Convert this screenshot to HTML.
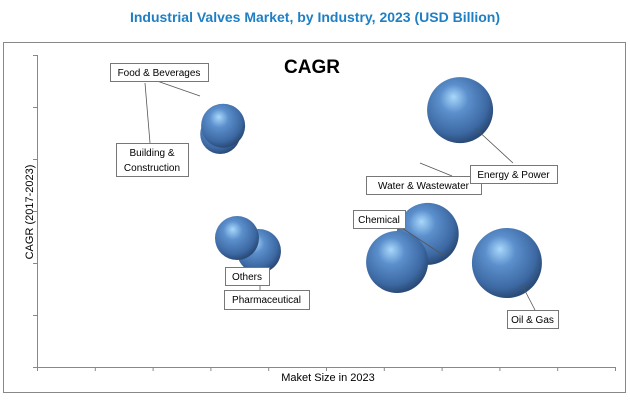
<!DOCTYPE html>
<html><head><meta charset="utf-8"><style>
body{margin:0;background:#fff;width:630px;height:403px;overflow:hidden;font-family:"Liberation Sans",sans-serif}
svg text{font-family:"Liberation Sans",sans-serif}
</style></head><body>
<svg width="630" height="403">
<defs>
<radialGradient id="sph" cx="0.42" cy="0.38" r="0.62" fx="0.4" fy="0.3">
<stop offset="0" stop-color="#a9d8fb"/>
<stop offset="0.35" stop-color="#5b8fcc"/>
<stop offset="0.8" stop-color="#3d69a3"/>
<stop offset="1" stop-color="#2a4b78"/>
</radialGradient>
</defs>
<text x="315" y="22" text-anchor="middle" font-size="14" font-weight="bold" fill="#1f7fc4">Industrial Valves Market, by Industry, 2023 (USD Billion)</text>
<rect x="3.5" y="42.5" width="622" height="350" fill="none" stroke="#888"/>
<text x="312" y="73" text-anchor="middle" font-size="19" font-weight="bold" fill="#000">CAGR</text>
<g id="axes"></g>
<g id="marks"></g>
<text x="328" y="381" text-anchor="middle" font-size="11" fill="#000">Maket Size in 2023</text>
<text transform="translate(33,212) rotate(-90)" text-anchor="middle" font-size="11" fill="#000">CAGR (2017-2023)</text>
</svg>
<script>
const names=["Building & Construction","Food & Beverages","Others","Pharmaceutical","Energy & Power","Water & Wastewater","Chemical","Oil & Gas"];
const xVals=[3.17,3.22,3.46,3.84,7.32,6.76,6.23,8.13];
const yVals=[4.48,4.64,2.48,2.23,4.94,2.56,2.02,2.00];
const sizes=[20,22,22,22,33,31,31,35];
const xTicks=[0,1,2,3,4,5,6,7,8,9,10];
const yTicks=[0,1,2,3,4,5,6];
const X0=37,X1=615,Y0=367,Y1=55;
const sx=v=>X0+(v/10)*(X1-X0);
const sy=v=>Y0-(v/6)*(Y0-Y1);
const NS="http://www.w3.org/2000/svg";
const ax=document.getElementById('axes'),mk=document.getElementById('marks');
function mkEl(t,a,p){const e=document.createElementNS(NS,t);for(const k in a)e.setAttribute(k,a[k]);p.appendChild(e);return e;}
let yl=mkEl('line',{x1:X0+.5,y1:Y1,x2:X0+.5,y2:Y0,stroke:'#888'},ax);


let xl=mkEl('line',{x1:X0,y1:Y0+.5,x2:X1,y2:Y0+.5,stroke:'#888'},ax);


yTicks.forEach(t=>{let l=mkEl('line',{x1:X0-4,y1:sy(t)+.5,x2:X0,y2:sy(t)+.5,stroke:'#888'},ax);

});
xTicks.forEach(t=>{let l=mkEl('line',{x1:sx(t)+.5,y1:Y0,x2:sx(t)+.5,y2:Y0+4,stroke:'#888'},ax);

});
const boxes=[[116,143,72,33,[150,143,145,83]],[110,63,98,18,[157,81,200,96]],[225,267,44,18,null],[224,290,85,19,[260,285,260,290]],[470,165,87,18,[475,128,513,163]],[366,176,115,18,[420,163,452,176]],[353,210,52,18,[402,228,443,255]],[507,310,51,18,[522,285,535,310]]];
const order=[3,2,0,1,4,5,6,7];
const labelOrder=[0,1,2,3,5,4,6,7];
order.forEach(i=>{let c=mkEl('circle',{cx:sx(xVals[i]),cy:sy(yVals[i]),r:sizes[i],fill:'url(#sph)'},mk);

});
boxes.forEach((b,i)=>{if(b[4]){let l=mkEl('line',{x1:b[4][0],y1:b[4][1],x2:b[4][2],y2:b[4][3],stroke:'#555','stroke-width':0.8},mk);

}});
labelOrder.forEach(i=>{const b=boxes[i];let g=mkEl('g',{},mk);


mkEl('rect',{x:b[0]+.5,y:b[1]+.5,width:b[2],height:b[3],fill:'#fff',stroke:'#777'},g);
if(i===0){mkEl('text',{x:b[0]+b[2]/2,y:b[1]+13,'text-anchor':'middle','font-size':10},g).textContent='Building &';
mkEl('text',{x:b[0]+b[2]/2,y:b[1]+28,'text-anchor':'middle','font-size':10},g).textContent='Construction';}
else mkEl('text',{x:b[0]+b[2]/2,y:b[1]+13,'text-anchor':'middle','font-size':10},g).textContent=names[i];});
</script>
</body></html>
